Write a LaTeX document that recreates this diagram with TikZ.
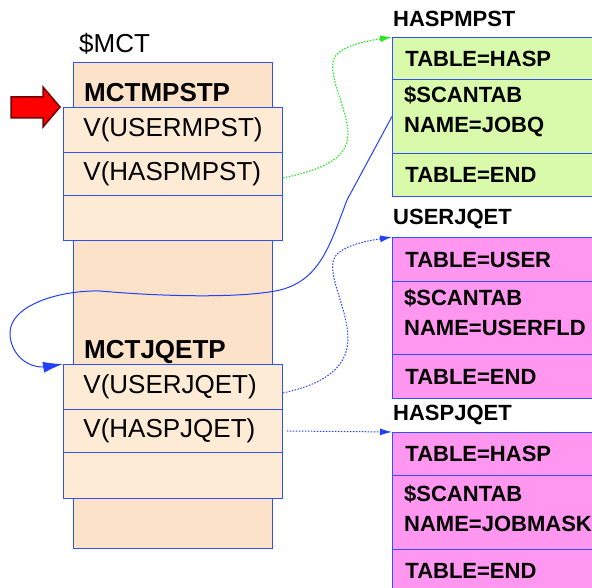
\documentclass[tikz,border=0pt]{standalone}
\usepackage{fontspec}
\setmainfont{Liberation Sans}
\usetikzlibrary{arrows.meta}
\definecolor{mctback}{RGB}{252,226,200}
\definecolor{mctrow}{RGB}{254,235,214}
\definecolor{tabgreen}{RGB}{216,250,170}
\definecolor{tabpink}{RGB}{255,150,240}
\definecolor{edgeblue}{RGB}{48,80,248}
\definecolor{lineblue}{RGB}{32,64,250}
\definecolor{linegreen}{RGB}{40,230,40}
\definecolor{arrowred}{RGB}{255,0,0}
\definecolor{arrowdark}{RGB}{110,0,0}

\begin{document}
\begin{tikzpicture}[x=1pt,y=-1pt,
  mcol/.style={draw=edgeblue, line width=0.9pt, fill=mctback, anchor=north west,
    minimum width=199pt, minimum height=486pt, inner sep=0pt},
  mrow/.style={draw=edgeblue, line width=0.9pt, fill=mctrow, anchor=north west,
    inner xsep=20pt, inner ysep=0pt, text width=179pt, minimum height=#1,
    align=left, font=\fontsize{26}{30}\selectfont},
  trow/.style={draw=edgeblue, line width=0.9pt, anchor=north west,
    inner xsep=13pt, inner ysep=0pt, text width=204pt, minimum height=#1,
    align=left, font=\bfseries\fontsize{22}{30}\selectfont},
  ttxt/.style={anchor=west, inner sep=0pt, align=left, font=\bfseries\fontsize{22}{30}\selectfont},
  mlbl/.style={anchor=west, inner sep=0pt, font=\bfseries\fontsize{26}{30}\selectfont},
  tlbl/.style={anchor=west, inner sep=0pt, font=\bfseries\fontsize{22}{26}\selectfont},
  greendot/.style={linegreen, line width=1.2pt, dash pattern=on 1.5pt off 1.5pt,
    -{Latex[length=12pt,width=7pt]}},
  bluedot/.style={lineblue, line width=1pt, dash pattern=on 1.5pt off 1.5pt,
    -{Latex[length=12pt,width=7pt]}},
  blueline/.style={lineblue, line width=1pt, -{Latex[length=20pt,width=11pt]}}]
\clip (0,0) rectangle (592,588);

% $MCT control table
\node[mcol] (mct) at (73,62) {};
\node[anchor=west, inner sep=0pt, font=\fontsize{26}{30}\selectfont] (mctlbl) at (79,44) {\$MCT};
\node[mlbl] (mctmpstp) at (84,93) {MCTMPSTP};
\node[mrow=45pt] (umpst) at (63,107) {V(USERMPST)};
\node[mrow=43pt] (hmpst) at (63,152) {V(HASPMPST)};
\node[mrow=45pt] (mpnull) at (63,195) {};
\node[mlbl] (mctjqetp) at (84,352) {MCTJQETP};
\node[mrow=45pt] (ujq) at (63,364) {V(USERJQET)};
\node[mrow=43pt] (hjq) at (63,409) {V(HASPJQET)};
\node[mrow=46pt] (jqnull) at (63,452) {};

% red pointer
\draw[fill=arrowred, draw=arrowdark, line width=1.5pt, line join=miter]
  (11,97) -- (43,97) -- (43,87) -- (60,107) -- (43,127) -- (43,118) -- (11,118) -- cycle;

% HASPMPST
\node[tlbl] (hmlbl) at (393,19) {HASPMPST};
\node[trow=42pt, fill=tabgreen] (hm1) at (392,37) {TABLE=HASP};
\node[trow=74pt, fill=tabgreen] (hm2) at (392,79) {};
\node[ttxt] (hm2t) at (404,112) {\$SCANTAB\\NAME=JOBQ};
\node[trow=43pt, fill=tabgreen] (hm3) at (392,153) {TABLE=END};

% USERJQET
\node[tlbl] (ujlbl) at (393,219) {USERJQET};
\node[trow=44pt, fill=tabpink] (uj1) at (392,237) {TABLE=USER};
\node[trow=73pt, fill=tabpink] (uj2) at (392,281) {};
\node[ttxt] (uj2t) at (404,312) {\$SCANTAB\\NAME=USERFLD};
\node[trow=44pt, fill=tabpink] (uj3) at (392,354) {TABLE=END};

% HASPJQET
\node[tlbl] (hjlbl) at (393,415) {HASPJQET};
\node[trow=43pt, fill=tabpink] (hj1) at (392,432) {TABLE=HASP};
\node[trow=74pt, fill=tabpink] (hj2) at (392,475) {};
\node[ttxt] (hj2t) at (404,508) {\$SCANTAB\\NAME=JOBMASK};
\node[trow=43pt, fill=tabpink] (hj3) at (392,549) {TABLE=END};

% pointers
\draw[greendot] ([yshift=-4pt]hmpst.east) .. controls (320,170) and (347,160) .. (348,135)
  .. controls (348,110) and (330,82) .. (333,62) .. controls (335,48) and (360,42) .. (hm1.north west);
\draw[bluedot] ([yshift=-6pt]ujq.east) .. controls (320,385) and (347,370) .. (348,340)
  .. controls (348,310) and (330,282) .. (333,262) .. controls (335,248) and (360,242) .. (uj1.north west);
\draw[bluedot, shorten <=4pt] (hjq.east) -- (hj1.north west);
\draw[blueline] (hm2.west) -- (347,200) .. controls (330,245) and (320,280) .. (280,290)
  .. controls (250,297) and (180,298) .. (100,291) .. controls (60,290) and (10,305) .. (10,333)
  .. controls (10,352) and (25,368) .. (45,367) -- (ujq.north west);
\end{tikzpicture}
\end{document}
